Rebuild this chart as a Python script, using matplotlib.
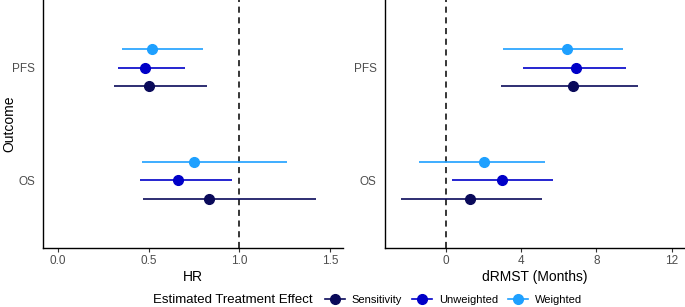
import numpy as np
import matplotlib.pyplot as plt
from matplotlib.lines import Line2D

plt.rcParams['font.family'] = ['Liberation Sans', 'DejaVu Sans']

outcomes = ['OS', 'PFS']
methods = ['Sensitivity', 'Unweighted', 'Weighted']
colors = ['#0a0a5a', '#0000c8', '#1ea0ff']

# HR estimates [OS, PFS]
hr_est = {'Sensitivity': [0.83, 0.50], 'Unweighted': [0.66, 0.48], 'Weighted': [0.75, 0.52]}
hr_lo = {'Sensitivity': [0.47, 0.31], 'Unweighted': [0.45, 0.33], 'Weighted': [0.46, 0.35]}
hr_hi = {'Sensitivity': [1.42, 0.82], 'Unweighted': [0.96, 0.70], 'Weighted': [1.26, 0.80]}

# dRMST estimates (months) [OS, PFS]
rm_est = {'Sensitivity': [1.29, 6.76], 'Unweighted': [3.01, 6.94], 'Weighted': [2.02, 6.42]}
rm_lo = {'Sensitivity': [-2.39, 2.95], 'Unweighted': [0.33, 4.09], 'Weighted': [-1.42, 3.04]}
rm_hi = {'Sensitivity': [5.11, 10.18], 'Unweighted': [5.68, 9.59], 'Weighted': [5.26, 9.43]}

fig = plt.figure(figsize=(6.85, 3.07), dpi=100)
ax1 = fig.add_axes([0.063, 0.192, 0.438, 0.808])
ax2 = fig.add_axes([0.562, 0.192, 0.438, 0.808])

offsets = [-1 / 6, 0, 1 / 6]
ypos = np.arange(1, len(outcomes) + 1)


def draw(ax, est, lo, hi, ref, xlim, xticks, xticklabels, xlabel):
    ax.axvline(ref, color='black', linestyle=(0, (4, 3)), linewidth=1.1, zorder=1)
    for m, c, off in zip(methods, colors, offsets):
        y = ypos + off
        ax.hlines(y, lo[m], hi[m], color=c, linewidth=1.2, zorder=2)
        ax.plot(est[m], y, 'o', color=c, markersize=7, zorder=3)
    ax.set_xlim(*xlim)
    ax.set_ylim(0.4, 2.6)
    ax.set_xticks(xticks)
    ax.set_xticklabels(xticklabels)
    ax.set_yticks(ypos)
    ax.set_yticklabels(outcomes)
    ax.set_xlabel(xlabel, fontsize=10, labelpad=2)
    for s in ['top', 'right']:
        ax.spines[s].set_visible(False)
    for s in ['left', 'bottom']:
        ax.spines[s].set_linewidth(1.0)
    ax.tick_params(axis='x', length=3, color='#333333', labelsize=8.5, labelcolor='#4d4d4d', pad=2)
    ax.tick_params(axis='y', length=0, labelsize=8.5, labelcolor='#4d4d4d', pad=6)


draw(ax1, hr_est, hr_lo, hr_hi, 1.0, (-0.083, 1.572), [0, 0.5, 1.0, 1.5],
     ['0.0', '0.5', '1.0', '1.5'], 'HR')
draw(ax2, rm_est, rm_lo, rm_hi, 0, (-3.22, 12.7), [0, 4, 8, 12],
     ['0', '4', '8', '12'], 'dRMST (Months)')
fig.text(0.003, 0.596, 'Outcome', rotation=90, ha='left', va='center', fontsize=10)

# legend along the bottom, title inline on the left
fig.text(153 / 685, 7 / 307, 'Estimated Treatment Effect', ha='left', va='center', fontsize=9.5)
handles = [Line2D([0], [0], color=c, marker='o', markersize=7, linewidth=1.2) for c in colors]
fig.legend(handles, methods, loc='center left', bbox_to_anchor=(325 / 685, 7 / 307),
           ncol=3, frameon=False, fontsize=8, borderpad=0, borderaxespad=0,
           handlelength=1.8, columnspacing=0.9, handletextpad=0.6)

fig.savefig('out.png', dpi=100)
